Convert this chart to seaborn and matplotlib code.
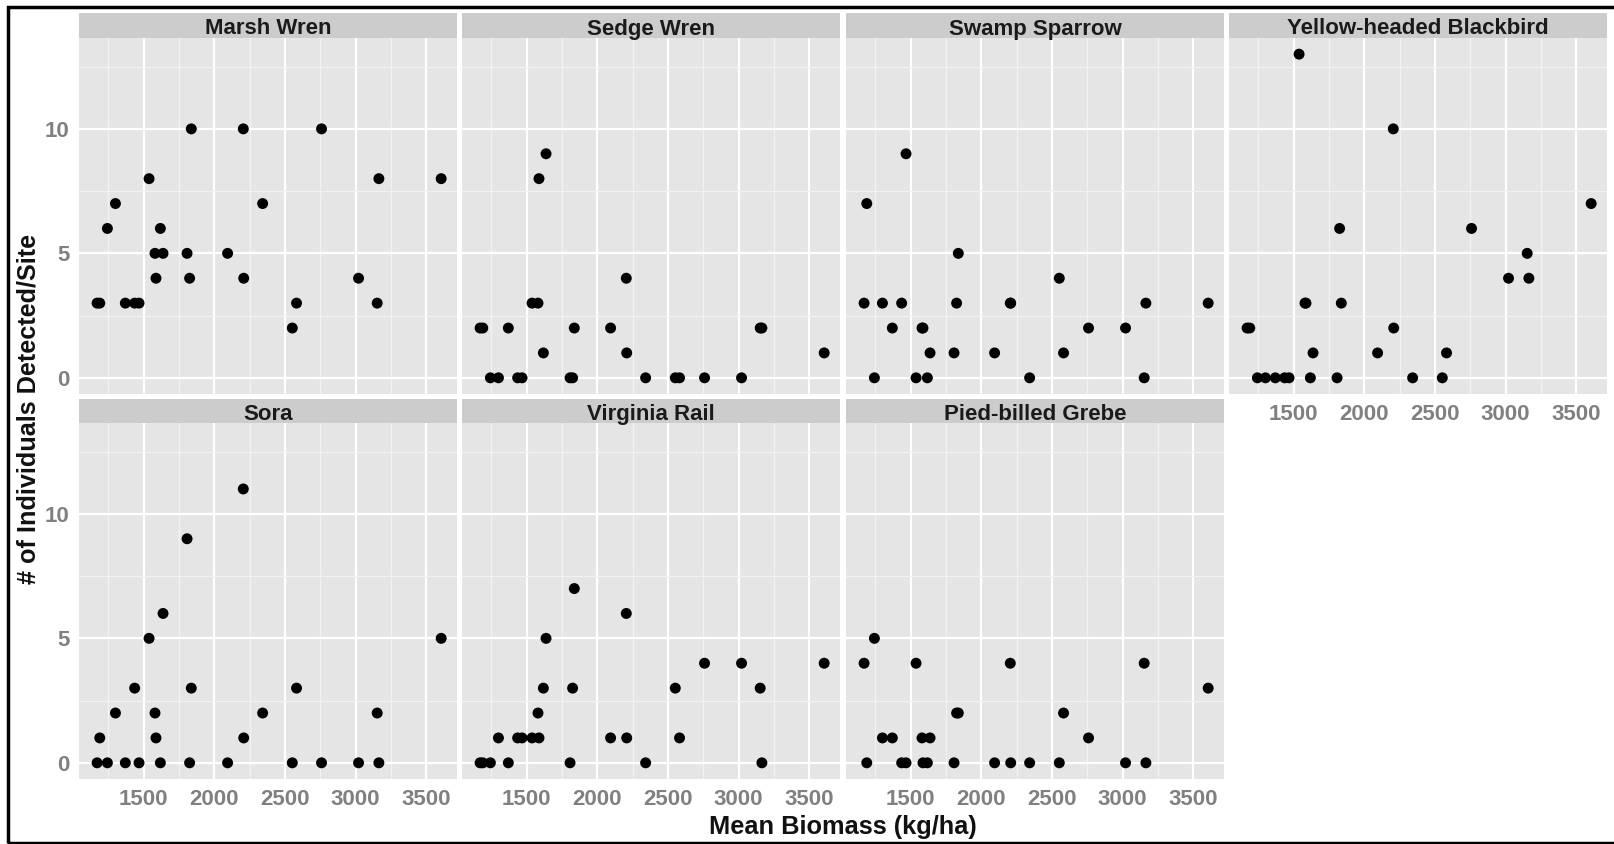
import matplotlib
matplotlib.use("Agg")
import matplotlib.pyplot as plt
import seaborn as sns
import pandas as pd
from matplotlib.patches import Rectangle
from matplotlib.ticker import MultipleLocator

sns.set_theme(style="white")
plt.rcParams['font.family'] = ['Liberation Sans', 'DejaVu Sans']

# ---- data -------------------------------------------------------------
biomass = [1170, 1189, 1243, 1300, 1370, 1436, 1467, 1538, 1580, 1587, 1618, 1637, 1807,
           1825, 1837, 2094, 2205, 2208, 2342, 2552, 2582, 2759, 3021, 3153, 3165, 3606]

species = ["Marsh Wren", "Sedge Wren", "Swamp Sparrow", "Yellow-headed Blackbird",
           "Sora", "Virginia Rail", "Pied-billed Grebe"]

marsh_wren    = [3, 3, 6, 7, 3, 3, 3, 8, 5, 4, 6, 5, 5, 4, 10, 5, 10, 4, 7, 2, 3, 10, 4, 3, 8, 8]
sedge_wren    = [2, 2, 0, 0, 2, 0, 0, 3, 3, 8, 1, 9, 0, 0, 2, 2, 4, 1, 0, 0, 0, 0, 0, 2, 2, 1]
swamp_sparrow = [3, 7, 0, 3, 2, 3, 9, 0, 2, 2, 0, 1, 1, 3, 5, 1, 3, 3, 0, 4, 1, 2, 2, 0, 3, 3]
yh_blackbird  = [2, 2, 0, 0, 0, 0, 0, 13, 3, 3, 0, 1, 0, 6, 3, 1, 10, 2, 0, 0, 1, 6, 4, 5, 4, 7]
sora          = [0, 1, 0, 2, 0, 3, 0, 5, 2, 1, 0, 6, 9, 0, 3, 0, 11, 1, 2, 0, 3, 0, 0, 2, 0, 5]
virginia_rail = [0, 0, 0, 1, 0, 1, 1, 1, 2, 1, 3, 5, 0, 3, 7, 1, 6, 1, 0, 3, 1, 4, 4, 3, 0, 4]
pb_grebe      = [4, 0, 5, 1, 1, 0, 0, 4, 1, 0, 0, 1, 0, 2, 2, 0, 4, 0, 0, 0, 2, 1, 0, 4, 0, 3]

x_ticks = [1500, 2000, 2500, 3000, 3500]
y_ticks = [0, 5, 10]

counts = [marsh_wren, sedge_wren, swamp_sparrow, yh_blackbird, sora, virginia_rail, pb_grebe]
df = pd.concat([pd.DataFrame({"species": sp, "biomass": biomass, "count": c})
                for sp, c in zip(species, counts)], ignore_index=True)

# ---- layout -----------------------------------------------------------
W, H = 1614, 844
fig = plt.figure(figsize=(W / 100, H / 100), dpi=100)
fig.patch.set_facecolor("white")

col_left = [79, 462, 846, 1229]
pw, ph = 378, 356
row_top = [38, 423]
strip_h = [25, 24]

bg = "#E5E5E5"
strip_col = "#CCCCCC"
tick_col = "#808080"

xlim = (1042, 3718)
ylim = (-0.65, 13.65)

for i, sp in enumerate(species):
    r, c = divmod(i, 4)
    left = col_left[c]
    top = row_top[r]
    ax = fig.add_axes([left / W, 1 - (top + ph) / H, pw / W, ph / H])
    ax.set_facecolor(bg)
    ax.set_xlim(*xlim)
    ax.set_ylim(*ylim)
    ax.xaxis.set_major_locator(MultipleLocator(500))
    ax.xaxis.set_minor_locator(MultipleLocator(250))
    ax.yaxis.set_major_locator(MultipleLocator(5))
    ax.yaxis.set_minor_locator(MultipleLocator(2.5))
    ax.grid(which="minor", color="#F2F2F2", linewidth=0.9)
    ax.grid(which="major", color="white", linewidth=1.6)
    ax.set_axisbelow(True)
    for s in ax.spines.values():
        s.set_visible(False)
    sub = df[df["species"] == sp]
    sns.scatterplot(data=sub, x="biomass", y="count", ax=ax, color="black",
                    s=62, edgecolor="none", linewidth=0, legend=False, zorder=3)
    ax.set_xlabel("")
    ax.set_ylabel("")
    ax.set_xticks(x_ticks)
    ax.set_yticks(y_ticks)
    show_x = (r == 1) or (c == 3)
    show_y = (c == 0)
    ax.tick_params(axis="x", which="major", length=4 if show_x else 0, width=1,
                   color=tick_col, labelsize=16, labelcolor=tick_col, pad=3,
                   labelbottom=show_x)
    ax.tick_params(axis="y", which="major", length=4 if show_y else 0, width=1,
                   color=tick_col, labelsize=16, labelcolor=tick_col, pad=3,
                   labelleft=show_y)
    ax.tick_params(which="minor", length=0)
    for lab in ax.get_xticklabels() + ax.get_yticklabels():
        lab.set_fontweight("bold")
    # strip
    sh = strip_h[r]
    sax = fig.add_axes([left / W, 1 - top / H, pw / W, sh / H])
    sax.set_facecolor(strip_col)
    sax.set_xticks([])
    sax.set_yticks([])
    for s in sax.spines.values():
        s.set_visible(False)
    sax.text(0.5, 0.36, sp, ha="center", va="center", fontsize=16,
             fontweight="bold", color="#1a1a1a", transform=sax.transAxes)

fig.text(843 / W, 1 - 827 / H, "Mean Biomass (kg/ha)", ha="center", va="center",
         fontsize=18.3, fontweight="bold", color="#111111")
fig.text(29 / W, 1 - 409 / H, "# of Individuals Detected/Site", ha="center",
         va="center", rotation=90, fontsize=18.2, fontweight="bold", color="#111111")

# outer frame
fig.patches.append(Rectangle((8 / W, 1 / H), 1.2, (836) / H, transform=fig.transFigure,
                             fill=False, edgecolor="black", linewidth=2.5, zorder=10))

fig.savefig("out.png", dpi=100, facecolor="white")
